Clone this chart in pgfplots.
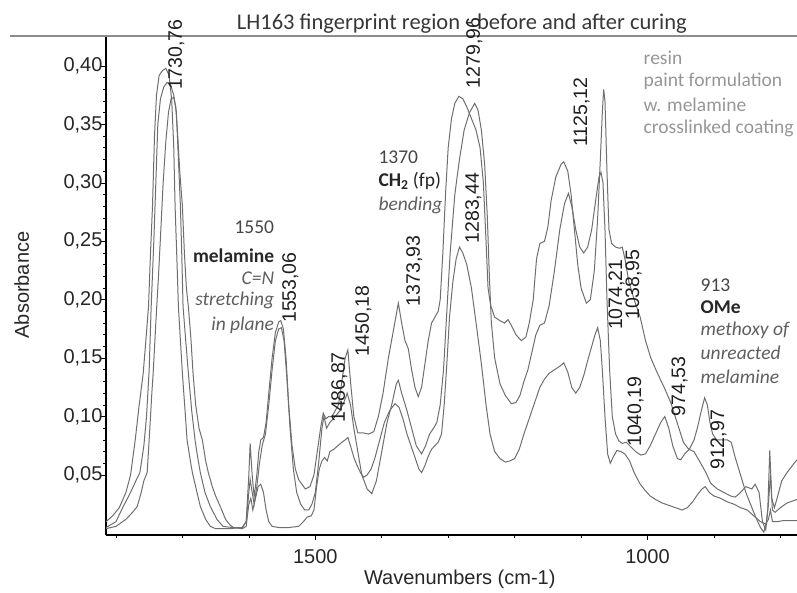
\documentclass[border=0pt]{standalone}
\usepackage{fontspec}
\setmainfont{Liberation Sans}
\newfontfamily\carl{Carlito}
\usepackage{pgfplots}
\pgfplotsset{compat=1.18}
\definecolor{curve}{RGB}{110,110,110}
\definecolor{lbl}{RGB}{30,30,30}
\definecolor{anno}{RGB}{70,70,70}
\definecolor{annoit}{RGB}{95,95,95}
\definecolor{leg}{RGB}{150,150,150}
\definecolor{topline}{RGB}{140,140,140}
\begin{document}
\begin{tikzpicture}
\path[use as bounding box] (-106pt,-57pt) rectangle (691pt,535pt);
\begin{axis}[
  at={(0,0)}, anchor=south west,
  width=691pt, height=498pt, scale only axis,
  x dir=reverse,
  xmin=775, xmax=1815, ymin=-0.0014, ymax=0.4248,
  axis x line=bottom, axis y line=left,
  axis line style={-, line width=1.2pt, black},
  clip=false,
  xtick={1000,1500}, minor xtick={800,900,1100,1200,1300,1400,1600,1700,1800},
  ytick={0.05,0.10,0.15,0.20,0.25,0.30,0.35,0.40},
  minor y tick num=4,
  tick align=outside,
  major tick length=5pt, minor tick length=2.5pt,
  tick style={black, line width=0.6pt},
  ticklabel style={font=\fontsize{20}{22}\selectfont, text=black!85},
  yticklabel style={xshift=5pt},
  xticklabel style={yshift=-6pt},
  /pgf/number format/.cd, assume math mode=true, use comma, fixed, fixed zerofill, precision=2,
  /pgfplots/.cd,
  xticklabel style={/pgf/number format/.cd, fixed, precision=0, set thousands separator={}},
  xlabel={Wavenumbers (cm-1)},
  ylabel={Absorbance},
  every axis x label/.style={at={(axis description cs:0.512,-0.088)}, anchor=center, font=\fontsize{20}{24}\selectfont, text=black!85},
  every axis y label/.style={at={(axis description cs:-0.122,0.502)}, anchor=center, rotate=90, font=\fontsize{20}{24}\selectfont, text=black!85},
]
% top grey rule and title
\draw[topline, line width=2pt] ([xshift=-96pt]axis description cs:0,1.002) -- (axis description cs:1,1.002);
\node[font=\carl\fontsize{22.5}{24}\selectfont, text={rgb,255:red,55;green,55;blue,55}] at (axis description cs:0.515,1.027) {LH163 fingerprint region - before and after curing};

% T
\addplot[curve, line width=1pt] coordinates {
(1815,0.010)(1805,0.015)(1795,0.022)(1785,0.035)(1778,0.05)(1771,0.08)(1765,0.11)(1759,0.137)(1755,0.165)(1751,0.194)(1748,0.24)(1745,0.28)(1742,0.34)(1739,0.375)(1735,0.392)(1730,0.396)(1725,0.398)(1720,0.392)(1716,0.37)(1713,0.33)(1711,0.28)(1708,0.23)(1706,0.194)(1703,0.165)(1700,0.137)(1696,0.105)(1693,0.08)(1688,0.062)(1685,0.052)(1678,0.035)(1673,0.023)(1665,0.012)(1658,0.006)(1650,0.004)(1630,0.004)(1610,0.005)(1604,0.01)(1600,0.05)(1598,0.077)(1595,0.05)(1592,0.031)(1588,0.05)(1585,0.07)(1582,0.08)(1578,0.082)(1574,0.095)(1570,0.12)(1565,0.15)(1560,0.172)(1555,0.181)(1552,0.182)(1548,0.175)(1544,0.15)(1540,0.11)(1535,0.075)(1530,0.055)(1525,0.046)(1515,0.038)(1508,0.04)(1502,0.05)(1497,0.07)(1492,0.09)(1488,0.103)(1484,0.098)(1480,0.1)(1475,0.1)(1470,0.105)(1465,0.11)(1460,0.13)(1455,0.15)(1451,0.157)(1447,0.13)(1442,0.1)(1436,0.086)(1428,0.086)(1420,0.085)(1412,0.087)(1405,0.1)(1398,0.12)(1390,0.15)(1382,0.175)(1375,0.197)(1370,0.18)(1365,0.165)(1360,0.158)(1355,0.14)(1350,0.125)(1345,0.117)(1340,0.125)(1335,0.145)(1330,0.165)(1325,0.18)(1320,0.185)(1315,0.19)(1312,0.2)(1308,0.24)(1304,0.29)(1300,0.33)(1295,0.355)(1290,0.368)(1284,0.374)(1278,0.372)(1272,0.365)(1265,0.355)(1258,0.345)(1252,0.33)(1247,0.3)(1243,0.25)(1240,0.21)(1236,0.195)(1230,0.185)(1222,0.182)(1215,0.18)(1210,0.183)(1205,0.178)(1198,0.17)(1190,0.165)(1183,0.168)(1178,0.18)(1172,0.2)(1167,0.235)(1162,0.248)(1155,0.25)(1150,0.262)(1145,0.285)(1138,0.305)(1130,0.316)(1126,0.318)(1120,0.31)(1115,0.29)(1110,0.26)(1105,0.23)(1100,0.21)(1092,0.197)(1086,0.2)(1080,0.225)(1075,0.27)(1071,0.32)(1068,0.36)(1066,0.38)(1064,0.37)(1061,0.31)(1058,0.26)(1054,0.248)(1048,0.245)(1042,0.244)(1038,0.245)(1034,0.235)(1028,0.215)(1020,0.2)(1011,0.185)(1003,0.165)(995,0.15)(985,0.137)(975,0.125)(965,0.112)(955,0.094)(946,0.078)(938,0.072)(930,0.07)(920,0.06)(912,0.052)(905,0.043)(895,0.038)(885,0.035)(875,0.032)(868,0.031)(860,0.035)(852,0.04)(843,0.038)(838,0.042)(832,0.035)(827,0.01)(822,0.003)(819,0.02)(816,0.071)(813,0.03)(809,0.022)(805,0.03)(798,0.045)(790,0.052)(782,0.058)(775,0.063)
};
% S
\addplot[curve, line width=1pt] coordinates {
(1815,0.005)(1800,0.01)(1789,0.023)(1778,0.035)(1770,0.045)(1764,0.052)(1758,0.075)(1754,0.1)(1750,0.14)(1747,0.194)(1743,0.25)(1740,0.3)(1737,0.35)(1733,0.372)(1728,0.382)(1723,0.386)(1718,0.384)(1713,0.375)(1709,0.36)(1706,0.32)(1703,0.28)(1701,0.24)(1699,0.194)(1695,0.165)(1691,0.137)(1686,0.105)(1681,0.08)(1677,0.065)(1673,0.052)(1666,0.035)(1658,0.023)(1648,0.012)(1639,0.006)(1625,0.005)(1610,0.005)(1604,0.01)(1600,0.035)(1598,0.046)(1595,0.035)(1592,0.025)(1588,0.04)(1584,0.06)(1580,0.075)(1575,0.085)(1570,0.11)(1565,0.14)(1560,0.165)(1555,0.175)(1551,0.176)(1547,0.165)(1543,0.135)(1538,0.09)(1533,0.055)(1528,0.035)(1522,0.025)(1516,0.02)(1510,0.02)(1505,0.025)(1500,0.035)(1495,0.06)(1490,0.09)(1487,0.1)(1483,0.09)(1478,0.095)(1470,0.1)(1463,0.105)(1457,0.112)(1452,0.12)(1447,0.11)(1442,0.09)(1436,0.07)(1430,0.05)(1422,0.038)(1415,0.034)(1408,0.045)(1400,0.07)(1392,0.095)(1385,0.11)(1378,0.128)(1375,0.131)(1370,0.12)(1362,0.105)(1355,0.09)(1348,0.075)(1340,0.068)(1334,0.075)(1328,0.085)(1322,0.09)(1317,0.095)(1312,0.11)(1307,0.14)(1302,0.19)(1297,0.24)(1290,0.29)(1283,0.32)(1276,0.345)(1268,0.36)(1260,0.368)(1255,0.362)(1250,0.345)(1245,0.315)(1241,0.27)(1238,0.22)(1235,0.18)(1230,0.15)(1222,0.128)(1214,0.118)(1205,0.111)(1198,0.112)(1192,0.118)(1186,0.13)(1180,0.14)(1174,0.155)(1168,0.17)(1162,0.178)(1155,0.18)(1148,0.195)(1140,0.225)(1132,0.26)(1125,0.282)(1119,0.291)(1114,0.28)(1108,0.26)(1102,0.245)(1096,0.24)(1090,0.245)(1084,0.26)(1078,0.285)(1073,0.305)(1070,0.309)(1067,0.3)(1064,0.26)(1061,0.2)(1057,0.14)(1053,0.1)(1048,0.085)(1043,0.079)(1038,0.077)(1032,0.078)(1025,0.074)(1018,0.07)(1010,0.067)(1003,0.068)(996,0.075)(988,0.085)(980,0.095)(974,0.1)(968,0.09)(962,0.075)(955,0.064)(950,0.063)(944,0.068)(937,0.072)(930,0.08)(925,0.09)(919,0.105)(914,0.116)(910,0.11)(906,0.095)(902,0.085)(896,0.08)(888,0.08)(880,0.08)(874,0.078)(868,0.065)(860,0.05)(852,0.035)(845,0.025)(838,0.015)(830,0.005)(825,0.001)(821,0.01)(818,0.025)(815,0.05)(812,0.02)(808,0.018)(800,0.022)(790,0.026)(780,0.028)(775,0.029)
};
% R
\addplot[curve, line width=1pt] coordinates {
(1815,0.004)(1800,0.006)(1785,0.012)(1775,0.018)(1768,0.023)(1762,0.035)(1758,0.045)(1753,0.052)(1749,0.09)(1746,0.12)(1744,0.137)(1740,0.18)(1736,0.22)(1732,0.265)(1729,0.3)(1725,0.335)(1721,0.36)(1717,0.372)(1713,0.373)(1710,0.365)(1707,0.34)(1704,0.31)(1700,0.28)(1697,0.24)(1694,0.21)(1691,0.194)(1687,0.165)(1684,0.137)(1680,0.11)(1675,0.09)(1670,0.08)(1665,0.062)(1661,0.052)(1655,0.04)(1650,0.032)(1643,0.023)(1635,0.012)(1628,0.007)(1623,0.005)(1610,0.004)(1604,0.006)(1600,0.025)(1597,0.03)(1594,0.02)(1590,0.03)(1586,0.04)(1582,0.042)(1578,0.035)(1574,0.02)(1570,0.01)(1565,0.006)(1555,0.005)(1540,0.005)(1525,0.006)(1518,0.01)(1512,0.014)(1506,0.015)(1502,0.02)(1498,0.04)(1494,0.055)(1490,0.062)(1486,0.065)(1482,0.062)(1478,0.07)(1472,0.072)(1466,0.075)(1460,0.078)(1455,0.08)(1451,0.082)(1447,0.075)(1442,0.065)(1437,0.058)(1432,0.052)(1427,0.048)(1422,0.05)(1416,0.055)(1410,0.065)(1403,0.08)(1396,0.095)(1388,0.105)(1380,0.111)(1374,0.108)(1368,0.098)(1362,0.085)(1356,0.075)(1350,0.065)(1344,0.055)(1340,0.052)(1335,0.058)(1330,0.066)(1325,0.072)(1320,0.075)(1315,0.078)(1310,0.085)(1306,0.11)(1302,0.145)(1298,0.185)(1293,0.215)(1288,0.235)(1283,0.245)(1278,0.24)(1272,0.23)(1265,0.21)(1258,0.18)(1250,0.145)(1243,0.11)(1237,0.085)(1230,0.07)(1222,0.064)(1214,0.061)(1207,0.062)(1200,0.064)(1193,0.072)(1186,0.085)(1180,0.095)(1174,0.105)(1168,0.115)(1162,0.125)(1155,0.132)(1148,0.137)(1140,0.14)(1132,0.143)(1126,0.146)(1120,0.138)(1114,0.125)(1108,0.12)(1102,0.125)(1096,0.135)(1090,0.148)(1084,0.16)(1079,0.17)(1075,0.176)(1071,0.165)(1068,0.14)(1064,0.1)(1060,0.068)(1056,0.06)(1051,0.066)(1046,0.071)(1040,0.07)(1034,0.068)(1027,0.062)(1020,0.052)(1012,0.043)(1004,0.037)(996,0.032)(988,0.029)(978,0.026)(968,0.024)(958,0.022)(948,0.02)(940,0.022)(932,0.027)(925,0.033)(918,0.038)(913,0.04)(907,0.035)(900,0.032)(890,0.03)(880,0.027)(870,0.025)(860,0.022)(850,0.02)(840,0.015)(830,0.01)(822,0.008)(818,0.012)(815,0.02)(812,0.01)(805,0.01)(795,0.011)(785,0.011)(775,0.011)
};

% peak labels
\begin{scope}[every node/.style={rotate=90, anchor=west, inner sep=0pt, text=lbl, font=\fontsize{19.5}{22}\selectfont}]
\node at (axis cs:1709,0.3794) {1730,76};
\node at (axis cs:1537.7,0.180) {1553,06};
\node at (axis cs:1463.9,0.0945) {1486,87};
\node at (axis cs:1427.7,0.1514) {1450,18};
\node at (axis cs:1350.9,0.1942) {1373,93};
\node at (axis cs:1260.5,0.3809) {1279,96};
\node at (axis cs:1262,0.2479) {1283,44};
\node at (axis cs:1099.4,0.3307) {1125,12};
\node at (axis cs:1046.7,0.174) {1074,21};
\node at (axis cs:1021.1,0.1826) {1038,95};
\node at (axis cs:1018.1,0.0739) {1040,19};
\node at (axis cs:951.8,0.1001) {974,53};
\node at (axis cs:893.1,0.0543) {912,97};
\end{scope}

% annotation blocks
\begin{scope}[every node/.style={inner sep=0pt, font=\carl\fontsize{19.5}{22}\selectfont}]
\node[anchor=east, text=anno] at (axis cs:1561.7,0.2623) {1550};
\node[anchor=east, text=black!85] at (axis cs:1561.7,0.2374) {\bfseries melamine};
\node[anchor=east, text=annoit] at (axis cs:1561.7,0.2186) {\itshape C=N};
\node[anchor=east, text=annoit] at (axis cs:1561.7,0.1998) {\itshape stretching};
\node[anchor=east, text=annoit] at (axis cs:1561.7,0.1784) {\itshape in plane};

\node[anchor=west, text=anno] at (axis cs:1405.1,0.3221) {1370};
\node[anchor=west, text=black!85] at (axis cs:1405.1,0.3016) {\bfseries CH\textsubscript{2}\mdseries\ (fp)};
\node[anchor=west, text=annoit] at (axis cs:1405.1,0.2810) {\itshape bending};

\node[anchor=west, text=leg] at (axis cs:1006,0.4068) {resin};
\node[anchor=west, text=leg] at (axis cs:1006,0.3872) {paint formulation};
\node[anchor=west, text=leg] at (axis cs:1006,0.3666) {w. melamine};
\node[anchor=west, text=leg] at (axis cs:1006,0.3469) {crosslinked coating};

\node[anchor=west, text=anno] at (axis cs:920.2,0.2126) {913};
\node[anchor=west, text=black!85] at (axis cs:920.2,0.1938) {\bfseries OMe};
\node[anchor=west, text=annoit] at (axis cs:920.2,0.1741) {\itshape methoxy of};
\node[anchor=west, text=annoit] at (axis cs:920.2,0.1544) {\itshape unreacted};
\node[anchor=west, text=annoit] at (axis cs:920.2,0.1339) {\itshape melamine};
\end{scope}
\end{axis}
\end{tikzpicture}
\end{document}
